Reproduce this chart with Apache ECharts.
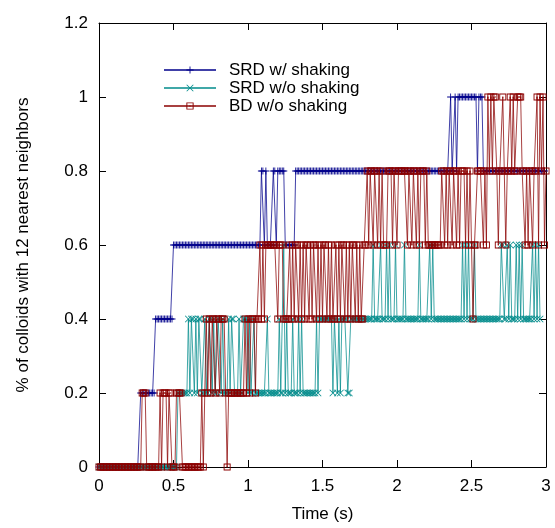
<!DOCTYPE html>
<html>
<head>
<meta charset="utf-8">
<script src="https://cdn.jsdelivr.net/npm/echarts@6/dist/echarts.min.js"></script>
<style>html,body{margin:0;padding:0;background:#fff;}#c{width:555px;height:528px;}</style>
</head>
<body>
<div id="c"></div>
<script>
// Sampling step of the simulation output (s)
const timeStep = 0.01;
const xTicks = [0, 0.5, 1, 1.5, 2, 2.5, 3];
const yTicks = [0, 0.2, 0.4, 0.6, 0.8, 1, 1.2];
const seriesNames = ['SRD w/ shaking', 'SRD w/o shaking', 'BD w/o shaking'];

// Run-length encoded values: [fraction, number of consecutive samples]
const srdShakingRuns = [[0,28],[0.2,10],[0.4,12],[0.6,59],[0.8,2],[0.6,1],[0.8,1],[0.6,4],[0.8,2],[0.6,1],[0.8,5],[0.6,7],[0.8,104],[1,1],[0.8,2],[1,1],[0.8,1],[1,13],[0.8,1],[1,3],[0.8,42]];

const srdNoShakeRuns = [[0,53],[0.2,7],
 [0.4,1],[0.2,1],[0.4,2],[0.2,1],[0.4,1],[0.2,1],[0.4,2],[0.2,2],[0.4,1],[0.2,2],[0.4,2],[0.2,1],[0.4,1],[0.2,2],[0.4,2],[0.2,1],[0.4,1],[0.2,3],[0.4,1],[0.2,1],[0.4,2],[0.2,3],[0.4,1],[0.2,2],[0.4,3],[0.2,1],[0.4,1],[0.2,2],[0.4,1],[0.2,1],
 [0.2,7],[0.4,1],[0.2,7],[0.4,1],[0.2,2],[0.6,1],[0.2,1],[0.4,1],[0.2,3],[0.4,1],[0.2,3],[0.4,1],[0.2,1],[0.4,1],[0.2,9],[0.4,1],[0.2,1],
 [0.4,9],[0.2,1],[0.4,2],[0.2,1],[0.4,1],[0.2,1],[0.4,4],[0.2,2],[0.4,15],
 [0.6,1],[0.4,4],[0.6,1],[0.4,3],[0.6,1],[0.4,1],[0.6,1],[0.4,3],[0.6,1],[0.4,5],[0.6,1],[0.4,9],[0.6,1],[0.4,6],[0.6,1],[0.4,1],[0.6,1],[0.4,19],
 [0.6,1],[0.4,1],[0.6,1],[0.4,1],[0.6,1],[0.4,3],[0.6,1],[0.4,17],[0.6,2],[0.4,2],[0.6,1],[0.4,1],[0.6,1],[0.4,3],[0.6,1],[0.4,1],[0.6,1],[0.4,1],[0.6,1],[0.4,6],[0.6,1],[0.4,1],[0.6,1],[0.4,1],[0.6,1],[0.4,1]];

const bdNoShakeRuns = [[0,29],[0.2,3],[0,9],[0.2,1],[0,1],[0.2,3],[0,1],[0.2,2],[0,3],[0.2,4],[0,13],
 [0.2,1],[0,1],[0.2,1],[0.4,1],[0.2,1],[0.4,1],[0.2,1],[0.4,2],[0.2,1],[0.4,2],[0.2,1],[0.4,3],[0.2,1],[0,1],[0.2,11],
 [0.4,1],[0.2,1],[0.4,1],[0.2,1],[0.4,3],[0.2,1],[0.4,2],[0.6,1],[0.4,1],[0.6,1],[0.4,1],[0.6,8],[0.4,1],[0.6,3],[0.4,4],
 [0.6,1],[0.4,1],[0.6,1],[0.4,1],[0.6,2],[0.4,1],[0.6,1],[0.4,1],[0.6,1],[0.4,1],[0.6,2],[0.4,1],[0.6,1],[0.4,1],[0.6,2],[0.4,1],
 [0.6,1],[0.4,1],[0.6,1],[0.4,1],[0.6,2],[0.4,1],[0.6,1],[0.4,1],[0.6,1],[0.4,2],[0.6,1],[0.4,1],[0.6,1],[0.4,1],[0.6,2],[0.4,1],
 [0.6,1],[0.4,1],[0.6,1],[0.4,1],[0.6,2],[0.4,1],[0.6,1],[0.4,1],[0.6,1],[0.4,2],[0.6,2],
 [0.8,1],[0.6,1],[0.8,2],[0.6,1],[0.8,2],[0.6,1],[0.8,1],[0.6,1],[0.8,1],[0.6,3],[0.8,3],[0.6,1],[0.8,2],[0.6,1],[0.8,6],[0.6,1],
 [0.8,2],[0.6,1],[0.8,2],[0.6,1],[0.8,1],[0.6,1],[0.8,3],[0.6,1],[0.8,1],[0.6,9],
 [0.8,2],[0.6,1],[0.8,1],[0.6,1],[0.8,2],[0.6,1],[0.8,2],[0.6,1],[0.8,1],[0.6,1],[0.8,3],[0.6,1],[0.8,1],[0.6,1],[0.8,1],[0.6,1],
 [0.4,1],[0.6,2],[0.8,4],[0.6,1],[0.8,1],[0.6,1],[1,1],[0.8,1],[1,1],[0.8,1],[1,2],[0.8,1],[0.6,1],[0.8,2],[1,1],[0.8,1],[0.6,1],
 [0.8,2],[1,1],[0.8,1],[1,1],[0.8,2],[1,3],[0.8,2],[0.6,1],[0.8,1],[0.6,1],[0.8,2],[0.6,1],[0.8,2],[1,1],[0.6,1],[1,1],[0.8,1],[1,1],[0.6,1],[0.8,1]];

function decode(runs) {
  const out = [];
  let i = 0;
  runs.forEach(([v, n]) => {
    for (let k = 0; k < n; k++) { out.push([+(i * timeStep).toFixed(2), v]); i++; }
  });
  return out;
}

const colors = ['#00008b', '#008b8b', '#8b0000'];
const symbols = [
  'path://M0,4.4H10V5.6H0Z M4.4,0H5.6V10H4.4Z',
  'path://M0,0.8L0.8,0L10,9.2L9.2,10Z M9.2,0L10,0.8L0.8,10L0,9.2Z',
  'path://M0,0H10V10H0Z M1.3,1.3V8.7H8.7V1.3Z M4.2,4.2H5.8V5.8H4.2Z'
];
const runsAll = [srdShakingRuns, srdNoShakeRuns, bdNoShakeRuns];

const font = 'Liberation Sans, Arial, sans-serif';
const chart = echarts.init(document.getElementById('c'), null, {renderer: 'canvas'});

const series = runsAll.map((r, idx) => ({
  name: seriesNames[idx],
  type: 'line',
  data: decode(r),
  xAxisIndex: 0, yAxisIndex: 0,
  showAllSymbol: true,
  symbol: symbols[idx],
  symbolSize: 7,
  color: colors[idx],
  lineStyle: {width: 1, color: colors[idx], opacity: 0.75},
  itemStyle: {color: colors[idx]},
  emphasis: {disabled: true},
  animation: false,
  z: 2 + idx
}));

const axisCommon = {
  type: 'value',
  axisLine: {show: true, onZero: false, lineStyle: {color: '#000', width: 1}},
  axisTick: {show: true, inside: true, length: 7, lineStyle: {color: '#000', width: 1}},
  splitLine: {show: false}
};

chart.setOption({
  animation: false,
  backgroundColor: '#fff',
  textStyle: {fontFamily: font},
  grid: {left: 99, right: 9, top: 23, bottom: 59, show: false},
  legend: {
    show: true,
    orient: 'vertical',
    left: 158, top: 56,
    itemWidth: 52, itemHeight: 9, itemGap: 0,
    textStyle: {fontFamily: font, fontSize: 17, lineHeight: 18, color: '#000', padding: [0, 0, 0, 8]},
    data: seriesNames
  },
  xAxis: [
    Object.assign({}, axisCommon, {
      min: 0, max: 3, interval: 0.5, position: 'bottom',
      name: 'Time (s)', nameLocation: 'middle', nameGap: 39,
      nameTextStyle: {fontFamily: font, fontSize: 17, color: '#000'},
      axisLabel: {fontFamily: font, fontSize: 17, color: '#000', margin: 11,
        formatter: v => String(xTicks.find(t => Math.abs(t - v) < 1e-9) ?? v)}
    }),
    Object.assign({}, axisCommon, {min: 0, max: 3, interval: 0.5, position: 'top', axisLabel: {show: false}})
  ],
  yAxis: [
    Object.assign({}, axisCommon, {
      min: 0, max: 1.2, interval: 0.2, position: 'left',
      name: '% of colloids with 12 nearest neighbors', nameLocation: 'middle', nameGap: 67,
      nameTextStyle: {fontFamily: font, fontSize: 17, color: '#000'},
      axisLabel: {fontFamily: font, fontSize: 17, color: '#000', margin: 11,
        formatter: v => String(yTicks.find(t => Math.abs(t - v) < 1e-9) ?? v)}
    }),
    Object.assign({}, axisCommon, {min: 0, max: 1.2, interval: 0.2, position: 'right', axisLabel: {show: false}})
  ],
  series: series
});
</script>
</body>
</html>
